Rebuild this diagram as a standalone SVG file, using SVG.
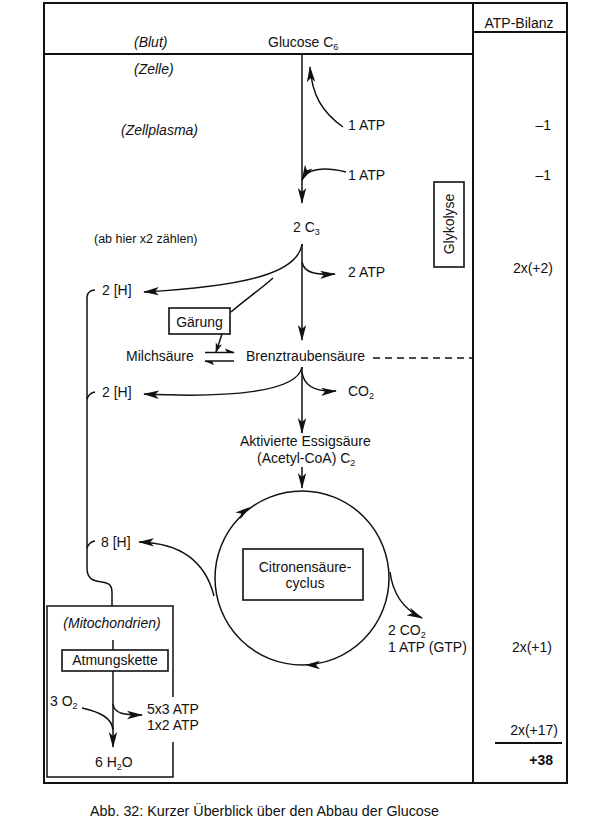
<svg xmlns="http://www.w3.org/2000/svg" xmlns:xlink="http://www.w3.org/1999/xlink" width="590" height="827" viewBox="0 0 590 827">
<style>
text{font-family:"Liberation Sans",Arial,sans-serif;font-size:14px;fill:#111}
.it{font-style:italic}
.sm{font-size:12.5px}
.sub{font-size:9px}
.frame{fill:none;stroke:#111;stroke-width:2}
.ln{fill:none;stroke:#111;stroke-width:1.5}
.box{fill:#fff;stroke:#111;stroke-width:1.6}
.ar{fill:none;stroke:#111;stroke-width:1.5;marker-end:url(#a)}
.mid{text-anchor:middle}
.end{text-anchor:end}
</style>
<defs>
<marker id="a" markerUnits="userSpaceOnUse" markerWidth="16" markerHeight="10" viewBox="0 0 16 10" refX="15" refY="5" orient="auto"><path d="M0,0.8 L16,5 L0,9.2 L4,5 Z" fill="#111"/></marker>
<marker id="s" markerUnits="userSpaceOnUse" markerWidth="10" markerHeight="8" viewBox="0 0 10 8" refX="9" refY="4" orient="auto"><path d="M0,0.8 L10,4 L0,7.2 L2.5,4 Z" fill="#111"/></marker>
<path id="ah" d="M0,0 L-15,-4.2 L-11,0 L-15,4.2 Z" fill="#111"/>
</defs>
<rect width="590" height="827" fill="#fff"/>
<g id="frame">
<rect class="frame" x="44" y="3" width="523" height="780"/>
<line class="frame" x1="473" y1="3" x2="473" y2="783"/>
<line class="frame" x1="473" y1="32" x2="567" y2="32"/>
<line class="frame" x1="44" y1="54" x2="473" y2="54"/>
</g>
<g id="labels">
<text x="519" y="28" class="mid">ATP-Bilanz</text>
<text x="134" y="47" class="it">(Blut)</text>
<text x="134" y="74" class="it">(Zelle)</text>
<text x="121" y="135" class="it">(Zellplasma)</text>
<text x="94" y="243" class="sm">(ab hier x2 zählen)</text>
</g>
<g id="bilanz">
<text x="551" y="130" class="end">–1</text>
<text x="551" y="180" class="end">–1</text>
<text x="553" y="273" class="end">2x(+2)</text>
<text x="552" y="652" class="end">2x(+1)</text>
<text x="558" y="735" class="end">2x(+17)</text>
<line x1="495" y1="743" x2="562" y2="743" stroke="#111" stroke-width="1.8"/>
<text x="553" y="765" class="end" font-weight="bold">+38</text>
</g>
<g id="glucose"><text x="268" y="47">Glucose C<tspan class="sub" dy="3">6</tspan></text></g>
<g id="atp1"><text x="348" y="130">1 ATP</text></g>
<g id="atp2"><text x="348" y="180">1 ATP</text></g>
<g id="c3"><text x="293" y="232">2 C<tspan class="sub" dy="3">3</tspan></text></g>
<g id="glykolyse">
<rect class="box" x="434" y="182" width="30" height="85"/>
<text transform="translate(454,224) rotate(-90)" class="mid">Glykolyse</text>
</g>
<g id="atp3"><text x="348" y="277">2 ATP</text></g>
<g id="h1"><text x="102" y="295">2 [H]</text></g>
<g id="gaerung">
<rect class="box" x="169" y="308" width="61" height="26"/>
<text x="199.5" y="327" class="mid">Gärung</text>
</g>
<g id="milchsaeure"><text x="126" y="361">Milchsäure</text></g>
<g id="brenz"><text x="246" y="361">Brenztraubensäure</text></g>
<g id="h2"><text x="102" y="397">2 [H]</text></g>
<g id="co2"><text x="348" y="396">CO<tspan class="sub" dy="3">2</tspan></text></g>
<g id="acetyl">
<text x="240" y="446">Aktivierte Essigsäure</text>
<text x="257" y="463">(Acetyl-CoA) C<tspan class="sub" dy="3">2</tspan></text>
</g>
<g id="citrat">
<circle class="ln" cx="302" cy="578" r="87"/>
<use xlink:href="#ah" transform="translate(250,507) rotate(-36)"/>
<use xlink:href="#ah" transform="translate(305,665) rotate(180)"/>
<rect class="box" x="243" y="549" width="120" height="51"/>
<text x="305" y="572" class="mid">Citronensäure-</text>
<text x="305" y="588" class="mid">cyclus</text>
</g>
<g id="h3"><text x="101" y="547">8 [H]</text></g>
<g id="tcaout">
<text x="388" y="635">2 CO<tspan class="sub" dy="3">2</tspan></text>
<text x="388" y="652">1 ATP (GTP)</text>
</g>
<g id="mito">
<path class="ln" d="M173,697 L173,606 L47,606 L47,777 L173,777 L173,742"/>
<text x="112" y="628" class="it mid">(Mitochondrien)</text>
</g>
<g id="atmung">
<rect class="box" x="62" y="650" width="106" height="21"/>
<text x="115" y="665" class="mid">Atmungskette</text>
</g>
<g id="o2"><text x="50" y="706">3 O<tspan class="sub" dy="3">2</tspan></text></g>
<g id="atpmito">
<text x="147" y="714">5x3 ATP</text>
<text x="147" y="730">1x2 ATP</text>
</g>
<g id="h2o"><text x="95" y="767">6 H<tspan class="sub" dy="3">2</tspan><tspan dy="-3">O</tspan></text></g>
<g id="connectors">
<path class="ar" d="M302,54 L302,203"/>
<path class="ar" d="M343,127 C322,112 312,95 310,67"/>
<path class="ar" d="M346,172 C325,167 308,168 302,180"/>
<path class="ar" d="M302,244 L302,340"/>
<path class="ar" d="M302,244 C298,272 250,286 144,292"/>
<path class="ar" d="M302,262 C304,273 316,275 335,274"/>
<path class="ln" d="M231,312 C245,300 262,288 273,278"/>
<path class="ln" d="M222,334 L216,352" style="marker-end:url(#s)"/>
<path class="ln" d="M205,352.5 L234,352.5"/>
<path d="M235,352.5 L225,348.5 L227,352.5 Z" fill="#111"/>
<path class="ln" d="M205,361 L234,361"/>
<path d="M204,361 L214,365 L212,361 Z" fill="#111"/>
<path class="ln" d="M373,358 L472,358" stroke-dasharray="7,5"/>
<path class="ar" d="M302,367 L302,433"/>
<path class="ar" d="M302,367 C298,392 230,398 144,394"/>
<path class="ar" d="M302,372 C304,388 318,392 336,391"/>
<path class="ar" d="M302,467 L302,488"/>
<path class="ar" d="M390,572 C393,595 405,610 422,618"/>
<path class="ar" d="M214,596 C205,560 180,543 139,542"/>
<path class="ln" d="M95,290 Q88,290 87,297 L87,568 C87,590 112,574 112,592 L112,606"/>
<path class="ln" d="M95,392 Q89,393 87,399"/>
<path class="ln" d="M95,541 Q89,542 87,548"/>
<path class="ln" d="M113,640 L113,650"/>
<path class="ar" d="M113,671 L113,747"/>
<path class="ln" d="M82,708 C100,712 112,718 113,730"/>
<path class="ar" d="M113,704 C114,714 125,715 142,715"/>
</g>
<g id="caption"><text x="90" y="816" style="font-size:14.3px">Abb. 32: Kurzer Überblick über den Abbau der Glucose</text></g>
</svg>
